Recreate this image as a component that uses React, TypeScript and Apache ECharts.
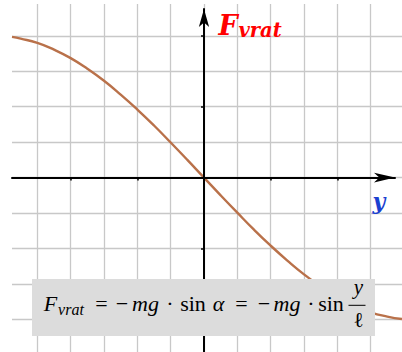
import React, { useEffect, useRef } from "react";
import * as echarts from "echarts";

// Displacement y (horizontal axis, grid units) and restoring force F_vrat (vertical axis)
const displacement = [
  -5.76, -5.5, -5, -4.5, -4, -3.5, -3, -2.5, -2, -1.5, -1, -0.5, 0,
  0.5, 1, 1.5, 2, 2.5, 3, 3.5, 4, 4.5, 5, 5.5, 5.94,
];
const force = [
  3.97, 3.92, 3.8, 3.61, 3.37, 3.07, 2.73, 2.34, 1.92, 1.47, 0.99, 0.5, 0,
  -0.5, -0.99, -1.47, -1.92, -2.34, -2.73, -3.07, -3.37, -3.61, -3.8, -3.92, -3.99,
];

// Grid lines every unit, tick marks every two units
const gridXValues = [-5, -4, -3, -2, -1, 0, 1, 2, 3, 4, 5];
const gridYValues = [-4, -3, -2, -1, 0, 1, 2, 3, 4];
const tickXValues = [-4, -2, 2, 4];
const tickYValues = [-4, -2, 2, 4];

// Pixel layout of the coordinate system
const ORIGIN = { x: 204, y: 177.6 };
const UNIT = { x: 33.33, y: 35.45 };
const toX = (px: number) => (px - ORIGIN.x) / UNIT.x;
const toY = (py: number) => (ORIGIN.y - py) / UNIT.y;

// Area covered by the grid lines and the curve
const PLOT = { left: 12, top: 4, right: 402, bottom: 352 };
// Axis lines (their ends are the arrow tips)
const AXES = { left: 12, top: 9, right: 395, bottom: 352 };

const CURVE_COLOR = "#b9714a";
const GRID_COLOR = "#c8c8c8";

const SERIF = "'Liberation Serif', 'Times New Roman', serif";
const BOLD_SERIF = "'DejaVu Serif', serif";

type Token = { text: string; cx: number; base: number; size: number; italic?: boolean };

const MAIN = 22;
const SUB = 16;
const BASE = 311;
// F_vrat = −mg · sin α = −mg · sin (y / ℓ), laid out token by token (cx = centre)
const formulaTokens: Token[] = [
  { text: "F", cx: 50.5, base: BASE, size: MAIN, italic: true },
  { text: "vrat", cx: 71, base: 314.5, size: SUB, italic: true },
  { text: "=", cx: 101.5, base: BASE, size: MAIN },
  { text: "\u2212", cx: 122, base: BASE, size: MAIN },
  { text: "mg", cx: 145.5, base: BASE, size: MAIN, italic: true },
  { text: "\u00b7", cx: 170, base: BASE, size: MAIN },
  { text: "sin", cx: 193, base: BASE, size: MAIN },
  { text: "\u03b1", cx: 218.5, base: BASE, size: MAIN, italic: true },
  { text: "=", cx: 241.5, base: BASE, size: MAIN },
  { text: "\u2212", cx: 264, base: BASE, size: MAIN },
  { text: "mg", cx: 287, base: BASE, size: MAIN, italic: true },
  { text: "\u00b7", cx: 311, base: BASE, size: MAIN },
  { text: "sin", cx: 331, base: BASE, size: MAIN },
  { text: "y", cx: 358.3, base: 294.5, size: 21, italic: true },
  { text: "\u2113", cx: 358.5, base: 327.5, size: 21 },
];

// Alphabetic baseline -> centre line used by the svg renderer
const centreY = (base: number, size: number, k = 0.3375) => base - k * size;

function textEl(
  text: string,
  x: number,
  base: number,
  size: number,
  opts: { italic?: boolean; bold?: boolean; family?: string; fill?: string; align?: string; k?: number } = {}
) {
  return {
    type: "text",
    z: 101,
    style: {
      text,
      x,
      y: centreY(base, size, opts.k),
      fill: opts.fill || "#000",
      fontSize: size,
      fontFamily: opts.family || SERIF,
      fontStyle: opts.italic ? "italic" : "normal",
      fontWeight: opts.bold ? "bold" : "normal",
      align: opts.align || "left",
      verticalAlign: "middle",
    },
  };
}

export default function App() {
  const ref = useRef<HTMLDivElement>(null);

  useEffect(() => {
    if (!ref.current) return;
    const chart = echarts.init(ref.current, undefined, { renderer: "svg" });

    const option: any = {
      animation: false,
      backgroundColor: "#ffffff",
      grid: [
        {
          left: PLOT.left,
          top: PLOT.top,
          width: PLOT.right - PLOT.left,
          height: PLOT.bottom - PLOT.top,
          show: false,
        },
        {
          left: AXES.left,
          top: AXES.top,
          width: AXES.right - AXES.left,
          height: AXES.bottom - AXES.top,
          show: false,
        },
      ],
      xAxis: [
        {
          gridIndex: 0,
          type: "value",
          min: toX(PLOT.left),
          max: toX(PLOT.right),
          axisLine: { show: false },
          axisTick: { show: false, customValues: gridXValues },
          axisLabel: { show: false },
          splitLine: { show: true, lineStyle: { color: GRID_COLOR, width: 1.3 } },
        },
        {
          gridIndex: 1,
          type: "value",
          min: toX(AXES.left),
          max: toX(AXES.right),
          z: 5,
          axisLine: {
            show: true,
            onZero: true,
            symbol: ["none", "arrow"],
            symbolSize: [7.2, 21],
            lineStyle: { color: "#000", width: 2 },
          },
          axisTick: {
            show: true,
            customValues: tickXValues,
            length: 3,
            lineStyle: { color: "#000", width: 1.5 },
          },
          axisLabel: { show: false },
          splitLine: { show: false },
        },
      ],
      yAxis: [
        {
          gridIndex: 0,
          type: "value",
          min: toY(PLOT.bottom),
          max: toY(PLOT.top),
          axisLine: { show: false },
          axisTick: { show: false, customValues: gridYValues },
          axisLabel: { show: false },
          splitLine: { show: true, lineStyle: { color: GRID_COLOR, width: 1.3 } },
        },
        {
          gridIndex: 1,
          type: "value",
          min: toY(AXES.bottom),
          max: toY(AXES.top),
          z: 5,
          axisLine: {
            show: true,
            onZero: true,
            symbol: ["none", "arrow"],
            symbolSize: [7.7, 18],
            lineStyle: { color: "#000", width: 2 },
          },
          axisTick: {
            show: true,
            customValues: tickYValues,
            length: 3,
            lineStyle: { color: "#000", width: 1.5 },
          },
          axisLabel: { show: false },
          splitLine: { show: false },
        },
      ],
      series: [
        {
          type: "line",
          xAxisIndex: 0,
          yAxisIndex: 0,
          data: displacement.map((x, i) => [x, force[i]]),
          smooth: true,
          showSymbol: false,
          symbol: "none",
          lineStyle: { color: CURVE_COLOR, width: 2.4 },
          z: 3,
        },
      ],
      graphic: [
        // axis names
        textEl("F", 218.5, 35, 27, { italic: true, bold: true, family: BOLD_SERIF, fill: "#ff0000", k: 0.346 }),
        textEl("vrat", 238.5, 37.5, 19.5, { italic: true, bold: true, family: BOLD_SERIF, fill: "#ff0000", k: 0.346 }),
        textEl("y", 372.5, 208.5, 22, { italic: true, bold: true, family: BOLD_SERIF, fill: "#1a40d0", k: 0.346 }),
        // formula box
        {
          type: "rect",
          z: 100,
          shape: { x: 32, y: 279, width: 343, height: 57 },
          style: { fill: "#dcdcdc" },
        },
        ...formulaTokens.map((t) =>
          textEl(t.text, t.cx, t.base, t.size, { italic: t.italic, align: "center" })
        ),
        // fraction bar of y / ℓ
        {
          type: "line",
          z: 101,
          shape: { x1: 348.5, y1: 305.3, x2: 365.5, y2: 305.3 },
          style: { stroke: "#000", lineWidth: 1 },
        },
      ],
    };

    chart.setOption(option);
    return () => chart.dispose();
  }, []);

  return (
    <div
      ref={ref}
      style={{ position: "fixed", left: 0, top: 0, width: 402, height: 352, background: "#fff" }}
    />
  );
}
